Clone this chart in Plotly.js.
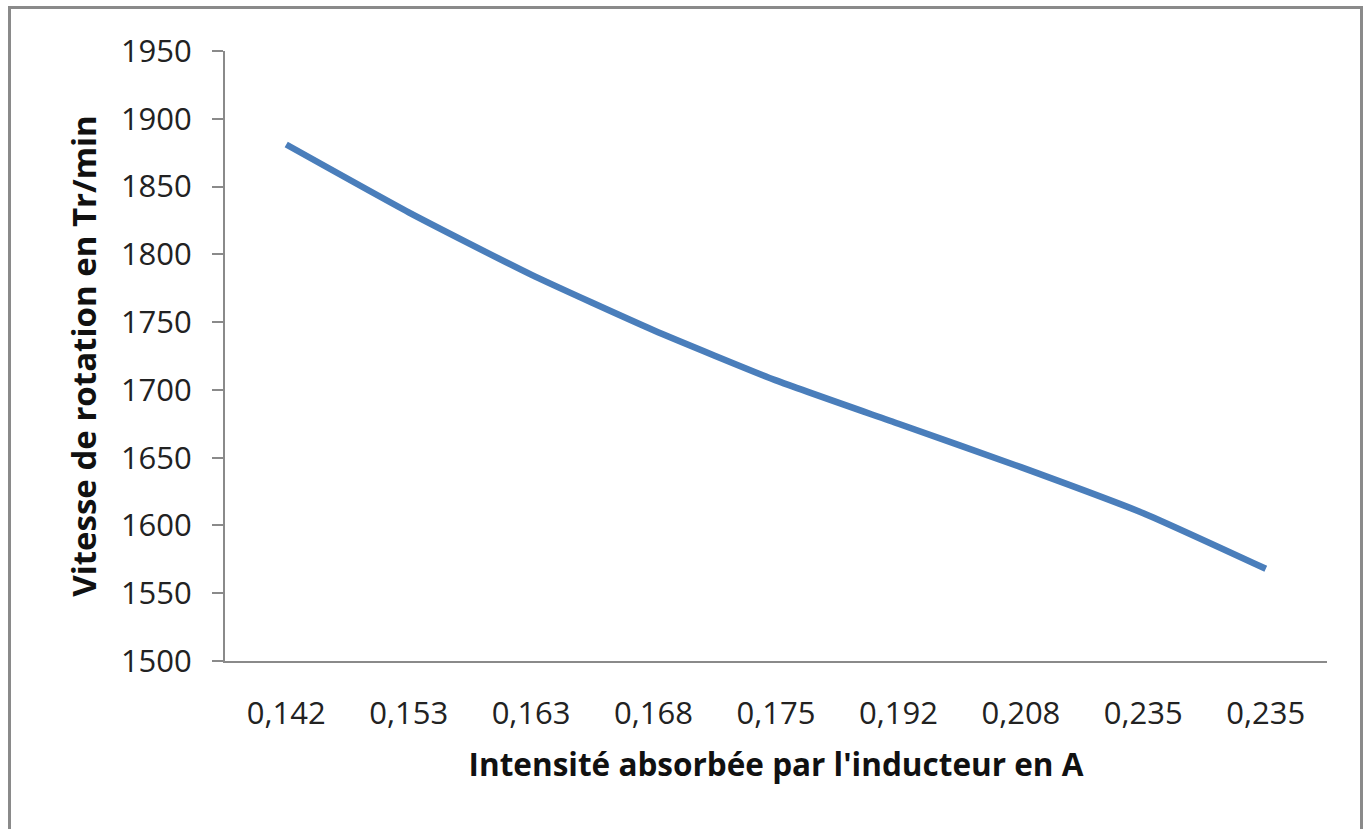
<!DOCTYPE html>
<html>
<head>
<meta charset="utf-8">
<script src="https://cdn.plot.ly/plotly-3.0.1.min.js"></script>
<style>
  html, body { margin: 0; padding: 0; background: #fff; overflow: hidden; }
  #frame { position: absolute; left: 8px; top: 6px; width: 1355px; height: 900px; border: 3px solid #8a8a8a; box-sizing: border-box; }
  #chart { position: absolute; left: 0; top: 0; width: 1371px; height: 829px; }
</style>
</head>
<body>
<div id="frame"></div>
<div id="chart"></div>
<script>
// Data
const categories = ["0,142", "0,153", "0,163", "0,168", "0,175", "0,192", "0,208", "0,235", "0,235"];
const speeds = [1881, 1831, 1785, 1744, 1707, 1675, 1643, 1609, 1568];
const yTicks = [1500, 1550, 1600, 1650, 1700, 1750, 1800, 1850, 1900, 1950];

const idx = categories.map((c, i) => i);

const trace = {
  x: idx,
  y: speeds,
  type: 'scatter',
  mode: 'lines',
  line: { color: '#4a7ebb', width: 6.5, shape: 'spline', smoothing: 0.5 },
  hoverinfo: 'x+y'
};

const layout = {
  width: 1371,
  height: 829,
  paper_bgcolor: 'rgba(0,0,0,0)',
  plot_bgcolor: 'rgba(0,0,0,0)',
  margin: { l: 225, r: 44, t: 51, b: 168 },
  showlegend: false,
  font: { family: 'Open Sans, sans-serif', color: '#222' },
  xaxis: {
    range: [-0.5, 8.5],
    tickmode: 'array',
    tickvals: idx,
    ticktext: categories,
    ticks: '',
    showgrid: false,
    zeroline: false,
    showline: true,
    linecolor: '#8a8a8a',
    linewidth: 2,
    tickfont: { size: 31, family: 'Open Sans, sans-serif', color: '#222' },
    ticklabelstandoff: 24,
    title: { text: "Intensité absorbée par l'inducteur en A", font: { size: 31.5, family: 'Open Sans, sans-serif', weight: 'bold', color: '#111' }, standoff: 22 }
  },
  yaxis: {
    range: [1500, 1950],
    tickmode: 'array',
    tickvals: yTicks,
    ticktext: yTicks.map(String),
    ticks: 'outside',
    ticklen: 11,
    tickwidth: 2,
    tickcolor: '#8a8a8a',
    showgrid: false,
    zeroline: false,
    showline: true,
    linecolor: '#8a8a8a',
    linewidth: 2,
    tickfont: { size: 31, family: 'Open Sans, sans-serif', color: '#222' },
    ticklabelstandoff: 14,
    title: { text: 'Vitesse de rotation en Tr/min', font: { size: 33, family: 'Open Sans, sans-serif', weight: 'bold', color: '#111' }, standoff: 14 }
  }
};

Plotly.newPlot('chart', [trace], layout, { displayModeBar: false, staticPlot: true });
</script>
</body>
</html>
